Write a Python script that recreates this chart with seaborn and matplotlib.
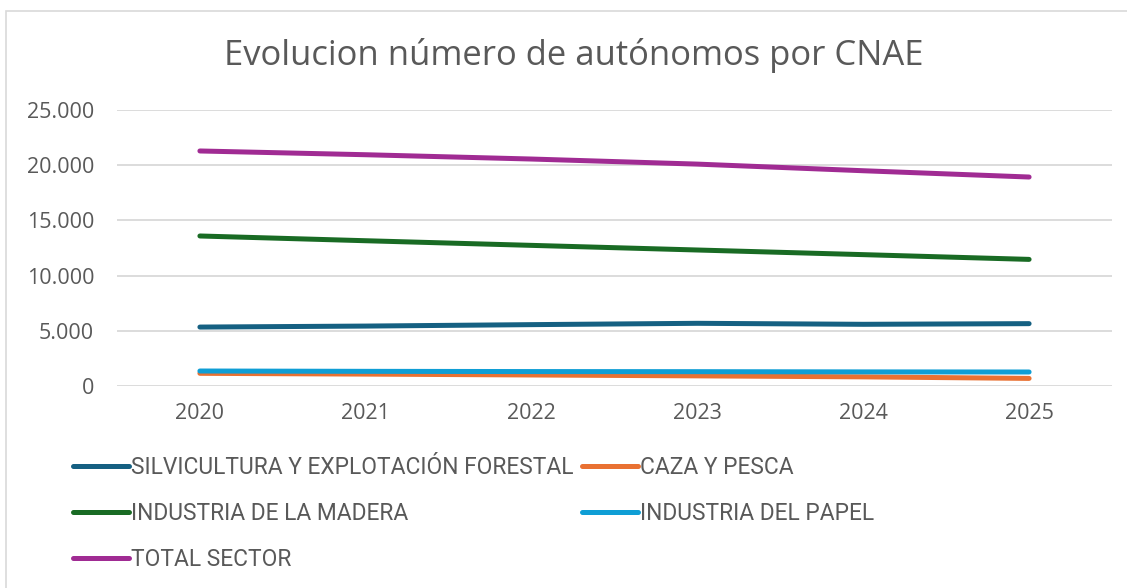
import pandas as pd
import matplotlib.pyplot as plt
import seaborn as sns
from matplotlib.ticker import FuncFormatter
from matplotlib.patches import Rectangle

# datos
anios = ['2020', '2021', '2022', '2023', '2024', '2025']
silvicultura = [5340, 5430, 5560, 5680, 5590, 5650]
caza_pesca = [1150, 1080, 1000, 920, 830, 690]
madera = [13590, 13160, 12740, 12320, 11900, 11470]
papel = [1360, 1330, 1310, 1300, 1280, 1270]
total = [21290, 20950, 20560, 20100, 19500, 18930]

series = ['SILVICULTURA Y EXPLOTACIÓN FORESTAL', 'CAZA Y PESCA',
          'INDUSTRIA DE LA MADERA', 'INDUSTRIA DEL PAPEL', 'TOTAL SECTOR']
valores = [silvicultura, caza_pesca, madera, papel, total]
colores = ['#156082', '#E97132', '#196B24', '#0F9ED5', '#A02B93']

filas = []
for nombre, vals in zip(series, valores):
    for a, v in zip(anios, vals):
        filas.append({'Año': a, 'Autónomos': v, 'CNAE': nombre})
df = pd.DataFrame(filas)

sns.set_theme(style='white')
plt.rcParams['font.family'] = ['Open Sans', 'DejaVu Sans']
gris = '#595959'

fig = plt.figure(figsize=(11.27, 5.88), dpi=100)
ax = fig.add_axes([0.1038, 0.3435, 0.8829, 0.4694])

sns.lineplot(data=df, x='Año', y='Autónomos', hue='CNAE', palette=colores,
             linewidth=3.6, ax=ax, sort=False, solid_capstyle='round')

ax.set_xlim(-0.5, 5.5)
ax.set_ylim(0, 25000)
ax.set_yticks(range(0, 25001, 5000))
ax.yaxis.set_major_formatter(FuncFormatter(lambda v, p: f'{int(v):,}'.replace(',', '.')))
ax.grid(axis='y', color='#D9D9D9', linewidth=1.3)
ax.set_axisbelow(True)
for s in ax.spines.values():
    s.set_visible(False)
ax.tick_params(axis='y', length=0, pad=16.5, labelsize=15.5, labelcolor=gris)
ax.tick_params(axis='x', length=0, pad=12, labelsize=15.5, labelcolor=gris)
ax.set_xlabel('')
ax.set_ylabel('')

fig.text(0.509, 0.905, 'Evolucion número de autónomos por CNAE', ha='center', va='center',
         fontsize=24.9, color=gris)

# leyenda en orden por filas
handles, labels = ax.get_legend_handles_labels()
orden = [0, 2, 4, 1, 3]
ax.legend_.remove()
leg = fig.legend([handles[i] for i in orden], [labels[i] for i in orden], ncol=2,
                 loc='upper left', bbox_to_anchor=(73 / 1127, 1 - 456 / 588), frameon=False,
                 borderpad=0, borderaxespad=0,
                 handlelength=2.45, handletextpad=0.08, columnspacing=0.4,
                 labelspacing=1.0,
                 prop={'family': ['Roboto', 'DejaVu Sans'], 'size': 16.4})
for t in leg.get_texts():
    t.set_color(gris)

# marco del área del gráfico
fig.patches.append(Rectangle((6 / 1127, -0.1), 1.2, 1 - 11 / 588 + 0.1, transform=fig.transFigure,
                             fill=False, edgecolor='#D9D9D9', linewidth=1.2))

plt.savefig('out.png', dpi=100)
